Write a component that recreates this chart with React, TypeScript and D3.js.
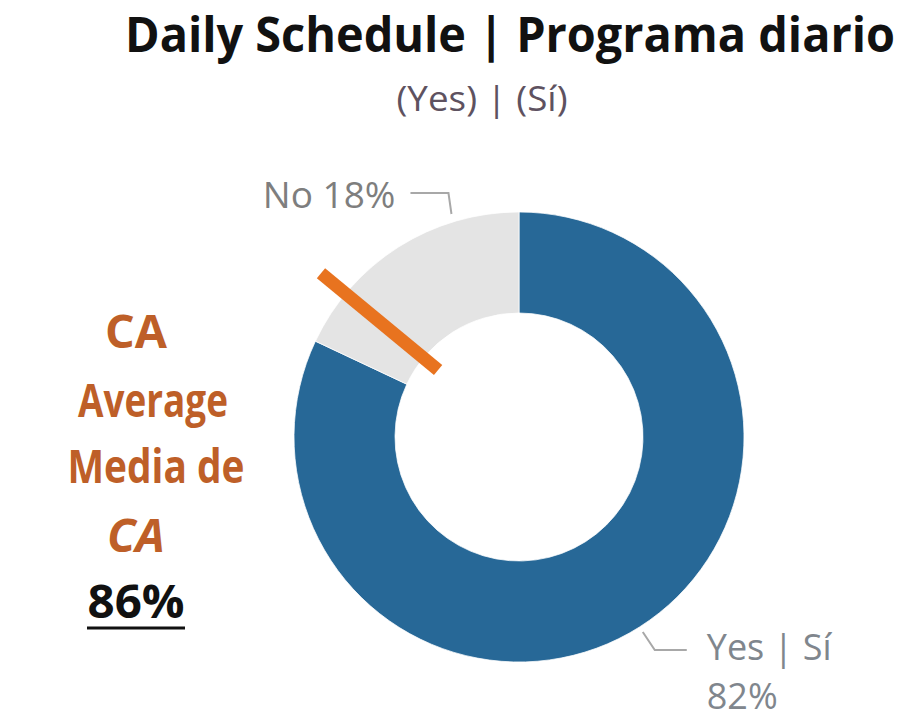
import React from "react";
import * as d3 from "d3";

const categories = ["Yes | Sí", "No"];
const values = [82, 18];
const sliceColors = ["#276897", "#E4E4E4"];
const caAverage = 86;
const titleText = "Daily Schedule | Programa diario";
const subtitleText = "(Yes) | (Sí)";
const avgLines = ["CA", "Average", "Media de", "CA"];

const W = 903;
const H = 715;
const cx = 519;
const cy = 437;
const rOuter = 225;
const rInner = 124;

export default function App() {
  const total = d3.sum(values);
  const angle = d3.scaleLinear().domain([0, total]).range([0, 2 * Math.PI]);
  const pie = d3
    .pie<number>()
    .sort(null)
    .value((d) => d)
    .startAngle(0)
    .endAngle(2 * Math.PI);
  const arcs = pie(values);
  const arc = d3.arc<d3.PieArcDatum<number>>().innerRadius(rInner).outerRadius(rOuter);

  const polar = (a: number, r: number): [number, number] => [
    cx + r * Math.sin(a),
    cy - r * Math.cos(a),
  ];

  // CA average marker
  const aAvg = angle(caAverage);
  const [ax1, ay1] = polar(aAvg, 105);
  const [ax2, ay2] = polar(aAvg, 257);

  // Yes label leader (slice midpoint)
  const yesA = (arcs[0].startAngle + arcs[0].endAngle) / 2;
  const [y0x, y0y] = polar(yesA, 231);
  const yesPts: [number, number][] = [
    [y0x, y0y],
    [y0x + 12, y0y + 18],
    [y0x + 44, y0y + 18],
  ];
  // No label leader
  const noA = arcs[1].startAngle + 0.74 * (arcs[1].endAngle - arcs[1].startAngle);
  const [n0x, n0y] = polar(noA, 233);
  const noPts: [number, number][] = [
    [n0x, n0y],
    [n0x - 3, n0y - 21],
    [n0x - 41, n0y - 21],
  ];
  const line = d3.line();

  const orangeText = "#BE5F28";
  const labelGray = "#80868D";
  const font = "'Open Sans', 'Noto Sans', sans-serif";

  const avgLayout = [
    { x: 136, y: 348, w: 62, italic: false },
    { x: 153, y: 417, w: 150, italic: false },
    { x: 156, y: 483, w: 177, italic: false },
    { x: 136, y: 552, w: 58, italic: true },
  ];

  return (
    <svg width={W} height={H} style={{ position: "absolute", left: 0, top: 0 }}>
      <rect width={W} height={H} fill="#fff" />
      <text
        x={125}
        y={52}
        fontFamily={font}
        fontWeight={700}
        fontSize={48}
        fill="#111"
        textLength={770}
        lengthAdjust="spacingAndGlyphs"
      >
        {titleText}
      </text>
      <text
        x={482}
        y={111}
        textAnchor="middle"
        fontFamily={font}
        fontSize={34}
        fill="#5E5260"
        textLength={171}
        lengthAdjust="spacingAndGlyphs"
      >
        {subtitleText}
      </text>

      <g>
        {arcs.map((a, i) => (
          <path
            key={categories[i]}
            d={arc(a) || ""}
            transform={`translate(${cx},${cy})`}
            fill={sliceColors[i]}
            stroke="#fff"
            strokeWidth={0.75}
          />
        ))}
      </g>

      <line
        x1={ax1}
        y1={ay1}
        x2={ax2}
        y2={ay2}
        stroke="#E8731F"
        strokeWidth={13}
        strokeLinecap="butt"
      />

      <path d={line(noPts) || ""} fill="none" stroke="#A8A8A8" strokeWidth={2} />
      <path d={line(yesPts) || ""} fill="none" stroke="#A8A8A8" strokeWidth={2} />

      <text
        x={noPts[2][0] - 15}
        y={208}
        textAnchor="end"
        fontFamily={font}
        fontSize={37}
        fill="#7E7E7E"
      >
        {`${categories[1]} ${values[1]}%`}
      </text>
      <text x={yesPts[2][0] + 20} y={660} fontFamily={font} fontSize={36} fill={labelGray}>
        {categories[0]}
      </text>
      <text x={yesPts[2][0] + 20} y={709} fontFamily={font} fontSize={36} fill={labelGray}>
        {`${values[0]}%`}
      </text>

      {avgLines.map((t, i) => (
        <text
          key={i}
          x={avgLayout[i].x}
          y={avgLayout[i].y}
          textAnchor="middle"
          fontFamily={font}
          fontWeight={700}
          fontStyle={avgLayout[i].italic ? "italic" : "normal"}
          fontSize={47}
          fill={orangeText}
          textLength={avgLayout[i].w}
          lengthAdjust="spacingAndGlyphs"
        >
          {t}
        </text>
      ))}
      <text
        x={136}
        y={618}
        textAnchor="middle"
        fontFamily={font}
        fontWeight={700}
        fontSize={47}
        fill="#111"
        textLength={97}
        lengthAdjust="spacingAndGlyphs"
      >
        {`${caAverage}%`}
      </text>
      <line x1={87} x2={185} y1={628} y2={628} stroke="#111" strokeWidth={3} />
    </svg>
  );
}
